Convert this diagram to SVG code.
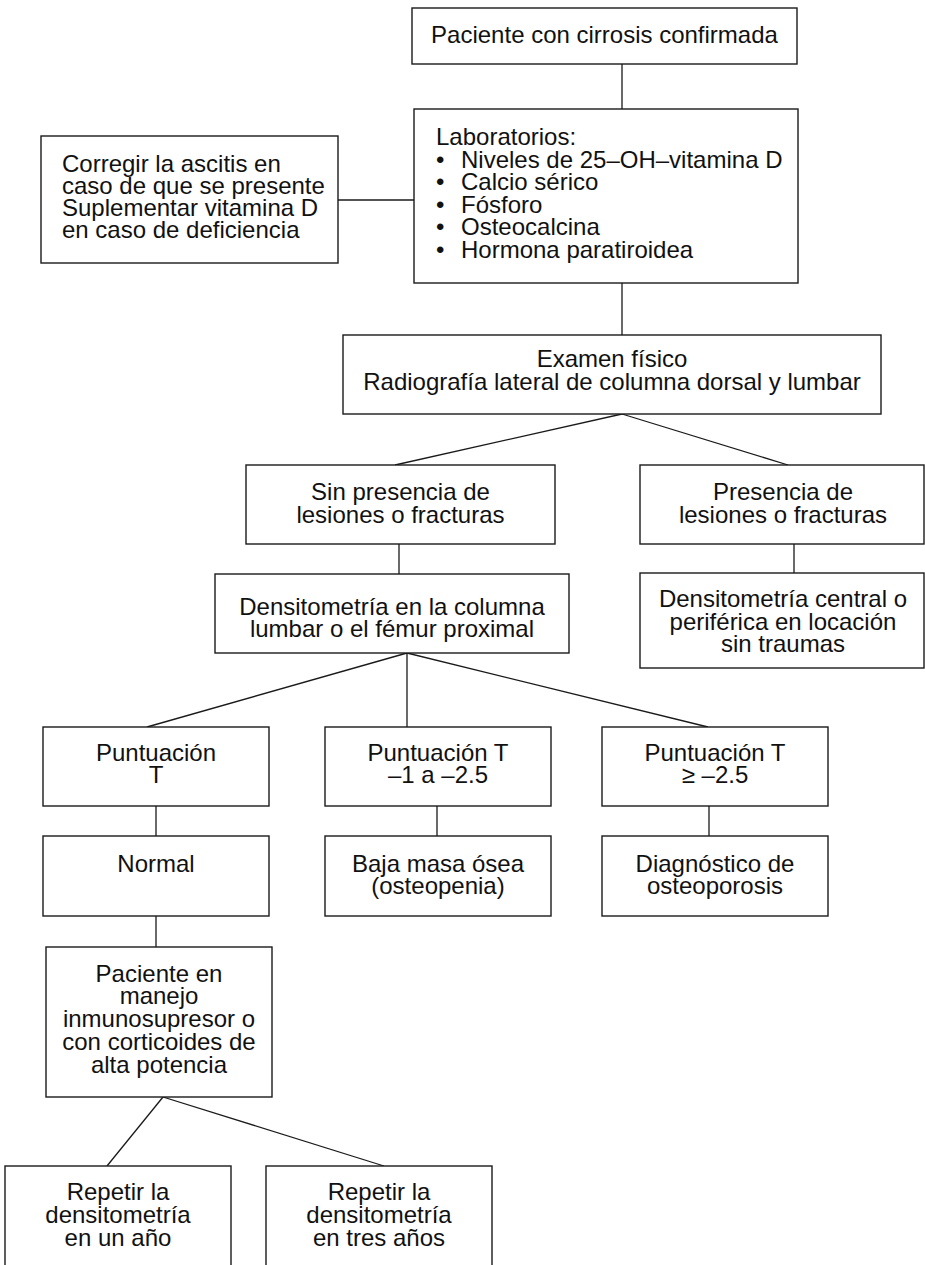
<svg xmlns="http://www.w3.org/2000/svg" width="925" height="1265" viewBox="0 0 925 1265">
<style>
.b{fill:#fff;stroke:#1a1a1a;stroke-width:1.4}
.t{font-family:"Liberation Sans",Arial,sans-serif;font-size:24px;fill:#111}
.c{text-anchor:middle}
#connectors line{stroke:#1a1a1a;stroke-width:1.3}
</style>
<rect width="925" height="1265" fill="#fff"/>
<g id="connectors">
<line x1="622" y1="64" x2="622" y2="109"/>
<line x1="338" y1="200" x2="414" y2="200"/>
<line x1="622" y1="283" x2="622" y2="335"/>
<line x1="622" y1="414" x2="395" y2="465"/>
<line x1="622" y1="414" x2="788" y2="465"/>
<line x1="399" y1="544" x2="399" y2="574"/>
<line x1="794" y1="544" x2="794" y2="573"/>
<line x1="407" y1="653" x2="147" y2="727"/>
<line x1="407" y1="653" x2="407" y2="727"/>
<line x1="407" y1="653" x2="708" y2="727"/>
<line x1="156" y1="806" x2="156" y2="836"/>
<line x1="437" y1="806" x2="437" y2="836"/>
<line x1="709" y1="806" x2="709" y2="836"/>
<line x1="156" y1="916" x2="156" y2="947"/>
<line x1="163" y1="1097" x2="107" y2="1166"/>
<line x1="163" y1="1097" x2="384" y2="1166"/>
</g>
<g id="n1"><rect class="b" x="412" y="8" width="385" height="56"/>
<text class="t c" x="604.5" y="43">Paciente con cirrosis confirmada</text></g>
<g id="n2"><rect class="b" x="41" y="136" width="297" height="127"/>
<text class="t" x="62" y="172">Corregir la ascitis en</text>
<text class="t" x="62" y="194">caso de que se presente</text>
<text class="t" x="62" y="216">Suplementar vitamina D</text>
<text class="t" x="62" y="238">en caso de deficiencia</text></g>
<g id="n3"><rect class="b" x="414" y="109" width="384" height="174"/>
<text class="t" x="436" y="145">Laboratorios:</text>
<text class="t" x="436" y="167.6">•</text><text class="t" x="461" y="167.6">Niveles de 25–OH–vitamina D</text>
<text class="t" x="436" y="190.2">•</text><text class="t" x="461" y="190.2">Calcio sérico</text>
<text class="t" x="436" y="212.8">•</text><text class="t" x="461" y="212.8">Fósforo</text>
<text class="t" x="436" y="235.4">•</text><text class="t" x="461" y="235.4">Osteocalcina</text>
<text class="t" x="436" y="258">•</text><text class="t" x="461" y="258">Hormona paratiroidea</text></g>
<g id="n4"><rect class="b" x="343" y="335" width="538" height="79"/>
<text class="t c" x="612" y="367">Examen físico</text>
<text class="t c" x="612" y="390">Radiografía lateral de columna dorsal y lumbar</text></g>
<g id="n5"><rect class="b" x="246" y="465" width="309" height="79"/>
<text class="t c" x="400.5" y="500">Sin presencia de</text>
<text class="t c" x="400.5" y="523">lesiones o fracturas</text></g>
<g id="n6"><rect class="b" x="640" y="465" width="284" height="79"/>
<text class="t c" x="783" y="500">Presencia de</text>
<text class="t c" x="783" y="523">lesiones o fracturas</text></g>
<g id="n7"><rect class="b" x="215" y="574" width="354" height="79"/>
<text class="t c" x="392" y="615">Densitometría en la columna</text>
<text class="t c" x="392" y="637">lumbar o el fémur proximal</text></g>
<g id="n8"><rect class="b" x="640" y="573" width="284" height="95"/>
<text class="t c" x="783" y="607">Densitometría central o</text>
<text class="t c" x="783" y="630">periférica en locación</text>
<text class="t c" x="783" y="652">sin traumas</text></g>
<g id="n9"><rect class="b" x="43" y="727" width="226" height="79"/>
<text class="t c" x="156" y="761">Puntuación</text>
<text class="t c" x="156" y="783">T</text></g>
<g id="n10"><rect class="b" x="325" y="727" width="226" height="79"/>
<text class="t c" x="438" y="761">Puntuación T</text>
<text class="t c" x="438" y="783">–1 a –2.5</text></g>
<g id="n11"><rect class="b" x="602" y="727" width="226" height="79"/>
<text class="t c" x="715" y="761">Puntuación T</text>
<text class="t c" x="715" y="783">≥ –2.5</text></g>
<g id="n12"><rect class="b" x="43" y="836" width="226" height="80"/>
<text class="t c" x="156" y="872">Normal</text></g>
<g id="n13"><rect class="b" x="325" y="836" width="226" height="80"/>
<text class="t c" x="438" y="872">Baja masa ósea</text>
<text class="t c" x="438" y="894">(osteopenia)</text></g>
<g id="n14"><rect class="b" x="602" y="836" width="226" height="80"/>
<text class="t c" x="715" y="872">Diagnóstico de</text>
<text class="t c" x="715" y="894">osteoporosis</text></g>
<g id="n15"><rect class="b" x="46" y="947" width="226" height="150"/>
<text class="t c" x="159" y="982">Paciente en</text>
<text class="t c" x="159" y="1004">manejo</text>
<text class="t c" x="159" y="1027">inmunosupresor o</text>
<text class="t c" x="159" y="1050">con corticoides de</text>
<text class="t c" x="159" y="1073">alta potencia</text></g>
<g id="n16"><rect class="b" x="5" y="1166" width="226" height="110"/>
<text class="t c" x="118" y="1200">Repetir la</text>
<text class="t c" x="118" y="1223">densitometría</text>
<text class="t c" x="118" y="1246">en un año</text></g>
<g id="n17"><rect class="b" x="266" y="1166" width="226" height="110"/>
<text class="t c" x="379" y="1200">Repetir la</text>
<text class="t c" x="379" y="1223">densitometría</text>
<text class="t c" x="379" y="1246">en tres años</text></g>
</svg>
